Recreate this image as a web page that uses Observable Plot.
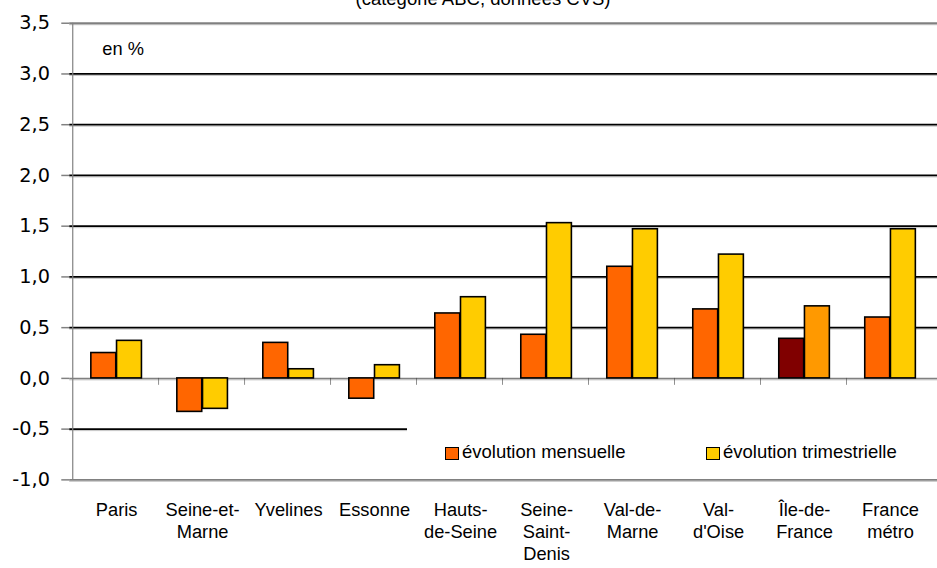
<!DOCTYPE html>
<html>
<head>
<meta charset="utf-8">
<script src="https://cdn.jsdelivr.net/npm/d3@7"></script>
<script src="https://cdn.jsdelivr.net/npm/@observablehq/plot@0.6"></script>
<style>
  html, body { margin: 0; padding: 0; background: #fff; overflow: hidden; width: 937px; height: 568px; }
  #wrap { position: relative; width: 937px; height: 568px; overflow: hidden; font-family: "Liberation Sans", Arial, sans-serif; }
  #wrap svg { position: absolute; left: 0; top: 0; }
  #title { position: absolute; left: 183px; width: 600px; top: -10.5px; text-align: center; font-size: 18.5px; line-height: 1; color: #000; white-space: nowrap; }
  #legend { position: absolute; left: 407px; top: 428px; width: 530px; height: 48px; background: #fff; }
  .sw { position: absolute; width: 14px; height: 13px; box-sizing: border-box; border: 1.5px solid #000; }
  .lt { position: absolute; font-size: 18.5px; line-height: 1; color: #000; white-space: nowrap; }
</style>
</head>
<body>
<div id="wrap"></div>
<script>
// ---- data ----
const categories = ["Paris", "Seine-et-Marne", "Yvelines", "Essonne", "Hauts-de-Seine",
  "Seine-Saint-Denis", "Val-de-Marne", "Val-d'Oise", "Île-de-France", "France métro"];
const tickLabels = ["Paris", "Seine-et-\nMarne", "Yvelines", "Essonne", "Hauts-\nde-Seine",
  "Seine-\nSaint-\nDenis", "Val-de-\nMarne", "Val-\nd'Oise", "Île-de-\nFrance", "France\nmétro"];
const mensuelle =     [0.25, -0.33, 0.35, -0.20, 0.64, 0.43, 1.10, 0.68, 0.39, 0.60];
const trimestrielle = [0.37, -0.30, 0.09,  0.13, 0.80, 1.53, 1.47, 1.22, 0.71, 1.47];
const seriesNames = ["évolution mensuelle", "évolution trimestrielle"];
const yTicks = [-1, -0.5, 0, 0.5, 1, 1.5, 2, 2.5, 3, 3.5];
const gridValues = [-0.5, 0.5, 1, 1.5, 2, 2.5, 3];
const title = "(catégorie ABC, données CVS)";
const unitLabel = "en %";
const highlight = "Île-de-France";

// ---- layout / style ----
const W = 948, H = 568, ML = 70, MR = 0, MT = 23, MB = 83;
const bw = (W - ML - MR) / categories.length;
const barW = 26;
const fmt = d => d.toFixed(1).replace(".", ",");

const mens = categories.map((c, i) => ({cat: c, v: mensuelle[i]}));
const trim = categories.map((c, i) => ({cat: c, v: trimestrielle[i]}));

const chart = Plot.plot({
  width: W, height: H,
  marginLeft: ML, marginRight: MR, marginTop: MT, marginBottom: MB,
  style: {fontFamily: "'Liberation Sans', Arial, sans-serif", fontSize: "18.5px", background: "transparent", color: "#000"},
  x: {domain: categories, padding: 0, axis: null},
  y: {domain: [-1, 3.5], axis: null},
  marks: [
    // gridlines with soft shadow
    Plot.ruleY(gridValues, {stroke: "#c4c4c4", strokeWidth: 1, dy: 1.5}),
    Plot.ruleY(gridValues, {stroke: "#000", strokeWidth: 1.8}),
    // frame top/bottom
    Plot.ruleY([3.5, -1], {stroke: "#c4c4c4", strokeWidth: 1, dy: 1.5}),
    Plot.ruleY([3.5, -1], {stroke: "#808080", strokeWidth: 2}),
    // zero line
    Plot.ruleY([0], {stroke: "#c4c4c4", strokeWidth: 1, dy: 1.5}),
    Plot.ruleY([0], {stroke: "#808080", strokeWidth: 1.5}),
    // category boundary ticks on the zero line
    Plot.barY(categories.slice(1), {x: d => d, y1: 0, y2: 0, insetBottom: -7, insetLeft: -0.7, insetRight: bw - 0.7, fill: "#444"}),
    // left axis line
    Plot.barY([categories[0]], {x: d => d, y1: -1, y2: 3.5, insetLeft: -1, insetRight: bw - 1, fill: "#808080"}),
    // y ticks
    Plot.axisY({ticks: yTicks, tickSize: 8, stroke: "#808080", strokeWidth: 1.5, text: null, label: null}),
    Plot.text(yTicks, {y: d => d, text: fmt, frameAnchor: "left", dx: -20, textAnchor: "end", lineAnchor: "middle",
      fontFamily: "'DejaVu Sans', Verdana, sans-serif", fontSize: 19.5, fill: "#000"}),
    // bars
    Plot.barY(mens, {x: "cat", y: "v", fill: d => d.cat === highlight ? "#800000" : "#FF6600",
      stroke: "#000", strokeWidth: 1.6, insetLeft: bw / 2 - barW, insetRight: bw / 2}),
    Plot.barY(trim, {x: "cat", y: "v", fill: d => d.cat === highlight ? "#FF9900" : "#FFCC00",
      stroke: "#000", strokeWidth: 1.6, insetLeft: bw / 2, insetRight: bw / 2 - barW}),
    // x labels
    Plot.text(categories, {x: d => d, text: (d, i) => tickLabels[i], frameAnchor: "bottom", lineAnchor: "top",
      dy: 20.5, lineHeight: 1.2, textAnchor: "middle", fill: "#000"}),
    // unit label
    Plot.text([unitLabel], {frameAnchor: "top-left", dx: 33, dy: 19, textAnchor: "start", lineAnchor: "top", fill: "#000"})
  ]
});

const wrap = document.getElementById("wrap");
wrap.appendChild(chart);

const t = document.createElement("div");
t.id = "title";
t.textContent = title;
wrap.appendChild(t);

const lg = document.createElement("div");
lg.id = "legend";
const legendColors = ["#FF6600", "#FFCC00"];
const legendX = [38, 299];
seriesNames.forEach((name, i) => {
  const sw = document.createElement("div");
  sw.className = "sw";
  sw.style.left = legendX[i] + "px";
  sw.style.top = "19px";
  sw.style.background = legendColors[i];
  lg.appendChild(sw);
  const tx = document.createElement("div");
  tx.className = "lt";
  tx.style.left = (legendX[i] + 17) + "px";
  tx.style.top = "15.3px";
  tx.textContent = name;
  lg.appendChild(tx);
});
wrap.appendChild(lg);
</script>
</body>
</html>
